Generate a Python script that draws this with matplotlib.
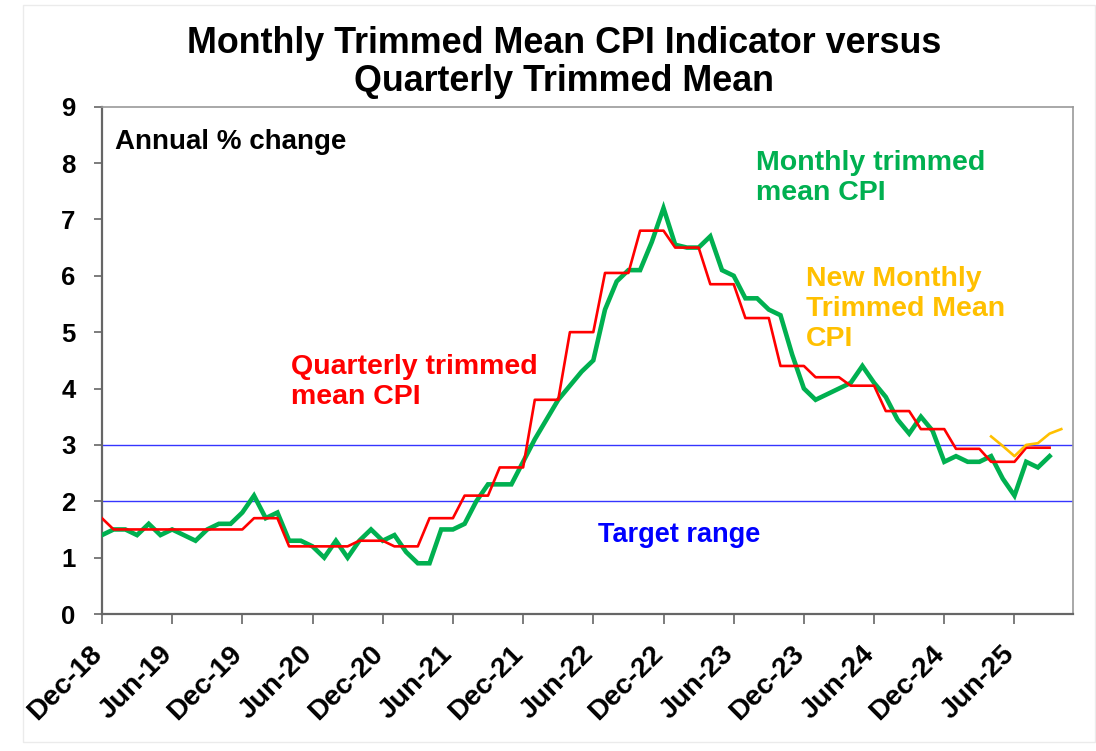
import matplotlib
matplotlib.use("Agg")
import matplotlib.pyplot as plt
import matplotlib.transforms as mtrans
from matplotlib.patches import Rectangle
import numpy as np

plt.rcParams['font.family'] = ['Liberation Sans', 'DejaVu Sans']

# Month categories Dec-18 .. Nov-25 (axis range)
month_names = ['Jan', 'Feb', 'Mar', 'Apr', 'May', 'Jun', 'Jul', 'Aug', 'Sep', 'Oct', 'Nov', 'Dec']
months = ['Dec-18'] + [f"{m}-{y:02d}" for y in range(19, 26) for m in month_names][:82]

# Monthly trimmed mean CPI indicator (annual %), Dec-18 .. Sep-25
monthly_tm = [1.4, 1.5, 1.5, 1.4, 1.6, 1.4, 1.5, 1.4, 1.3, 1.5, 1.6, 1.6,
              1.8, 2.1, 1.7, 1.8, 1.3, 1.3, 1.2, 1.0, 1.3, 1.0, 1.3, 1.5,
              1.3, 1.4, 1.1, 0.9, 0.9, 1.5, 1.5, 1.6, 2.0, 2.3, 2.3, 2.3,
              2.7, 3.1, 3.45, 3.8, 4.05, 4.3, 4.5, 5.4, 5.9, 6.1, 6.1, 6.6,
              7.2, 6.55, 6.5, 6.5, 6.7, 6.1, 6.0, 5.6, 5.6, 5.4, 5.3, 4.6,
              4.0, 3.8, 3.9, 4.0, 4.1, 4.4, 4.1, 3.85, 3.45, 3.2, 3.5, 3.25,
              2.7, 2.8, 2.7, 2.7, 2.8, 2.4, 2.1, 2.7, 2.6, 2.8]

# Quarterly trimmed mean, shown monthly (quarter value on each month of quarter)
quarterly_tm = [1.7,
                1.5, 1.5, 1.5, 1.5, 1.5, 1.5, 1.5, 1.5, 1.5, 1.5, 1.5, 1.5,
                1.7, 1.7, 1.7, 1.2, 1.2, 1.2, 1.2, 1.2, 1.2, 1.3, 1.3, 1.3,
                1.2, 1.2, 1.2, 1.7, 1.7, 1.7, 2.1, 2.1, 2.1, 2.6, 2.6, 2.6,
                3.8, 3.8, 3.8, 5.0, 5.0, 5.0, 6.05, 6.05, 6.05, 6.8, 6.8, 6.8,
                6.5, 6.5, 6.5, 5.85, 5.85, 5.85, 5.25, 5.25, 5.25, 4.4, 4.4, 4.4,
                4.2, 4.2, 4.2, 4.05, 4.05, 4.05, 3.6, 3.6, 3.6, 3.28, 3.28, 3.28,
                2.93, 2.93, 2.93, 2.7, 2.7, 2.7, 2.95, 2.95, 2.95]

# New monthly trimmed mean CPI, Apr-25 .. Oct-25
new_months = ['Apr-25', 'May-25', 'Jun-25', 'Jul-25', 'Aug-25', 'Sep-25', 'Oct-25']
new_monthly_tm = [3.15, 2.98, 2.8, 3.0, 3.03, 3.2, 3.28]

# Target range
target_band = [2, 3]

tick_labels = ['Dec-18', 'Jun-19', 'Dec-19', 'Jun-20', 'Dec-20', 'Jun-21', 'Dec-21',
               'Jun-22', 'Dec-22', 'Jun-23', 'Dec-23', 'Jun-24', 'Dec-24', 'Jun-25']

GREEN = '#00B050'
RED = '#FF0000'
YELLOW = '#FFC000'
BLUE = '#0000FF'
BLUE_LINE = '#3535FF'

fig = plt.figure(figsize=(10.96, 7.51), dpi=100)

# faint outer frame of the original picture
fig.patches.append(Rectangle((23 / 1096, 1 - 742 / 751), (1095 - 23) / 1096, (742 - 5) / 751,
                             transform=fig.transFigure, fill=False, edgecolor='#ebebeb',
                             lw=1.0, zorder=0))

ax = fig.add_axes([0.093, 0.1824, 0.886, 0.6756])

idx = {m: i for i, m in enumerate(months)}
x_m = np.array([idx[m] for m in months[:len(monthly_tm)]])
x_q = np.array([idx[m] for m in months[:len(quarterly_tm)]])
x_n = np.array([idx[m] for m in new_months])

for t in target_band:
    ax.axhline(t, color=BLUE_LINE, lw=1.0, zorder=1)

ax.plot(x_m, monthly_tm, color=GREEN, lw=3.3, zorder=3, solid_joinstyle='miter')
ax.plot(x_q, quarterly_tm, color=RED, lw=1.9, zorder=4)
ax.plot(x_n, new_monthly_tm, color=YELLOW, lw=1.9, zorder=5)

ax.set_xlim(0, 83)
ax.set_ylim(0, 9)
ax.set_yticks(range(0, 10))
ax.set_yticklabels([str(v) for v in range(0, 10)], fontsize=18.5, fontweight='bold')
ax.set_xticks([idx[t] for t in tick_labels])
ax.set_xticklabels(tick_labels, fontsize=20.5, fontweight='bold', rotation=45,
                   ha='right', va='center', rotation_mode='anchor')
ax.tick_params(axis='x', direction='out', length=7, width=1.2, color='#666666', pad=19)
ax.tick_params(axis='y', direction='out', length=6, width=1.2, color='#666666', pad=13)
shift = mtrans.ScaledTranslation(-4 / 100, 0, fig.dpi_scale_trans)
for lab in ax.get_xticklabels():
    lab.set_transform(lab.get_transform() + shift)

for side in ['left', 'bottom']:
    ax.spines[side].set_color('#666666')
    ax.spines[side].set_linewidth(1.6)
for side in ['right', 'top']:
    ax.spines[side].set_color('#999999')
    ax.spines[side].set_linewidth(1.2)

fig.suptitle('Monthly Trimmed Mean CPI Indicator versus\nQuarterly Trimmed Mean',
             x=0.515, y=0.965, fontsize=25.8, fontweight='bold', linespacing=1.1, va='top')

ax.text(1.1, 8.38, 'Annual % change', fontsize=20, fontweight='bold', color='black',
        ha='left', va='center')
ax.text(55.9, 7.73, 'Monthly trimmed\nmean CPI', fontsize=20.5, fontweight='bold', color=GREEN,
        ha='left', va='center', linespacing=1.2)
ax.text(60.2, 5.41, 'New Monthly\nTrimmed Mean\nCPI', fontsize=20.5, fontweight='bold', color=YELLOW,
        ha='left', va='center', linespacing=1.2)
ax.text(16.2, 4.11, 'Quarterly trimmed\nmean CPI', fontsize=20.5, fontweight='bold', color=RED,
        ha='left', va='center', linespacing=1.2)
ax.text(42.4, 1.41, 'Target range', fontsize=19.5, fontweight='bold', color=BLUE,
        ha='left', va='center')

fig.savefig('out.png', dpi=100, facecolor='white')
